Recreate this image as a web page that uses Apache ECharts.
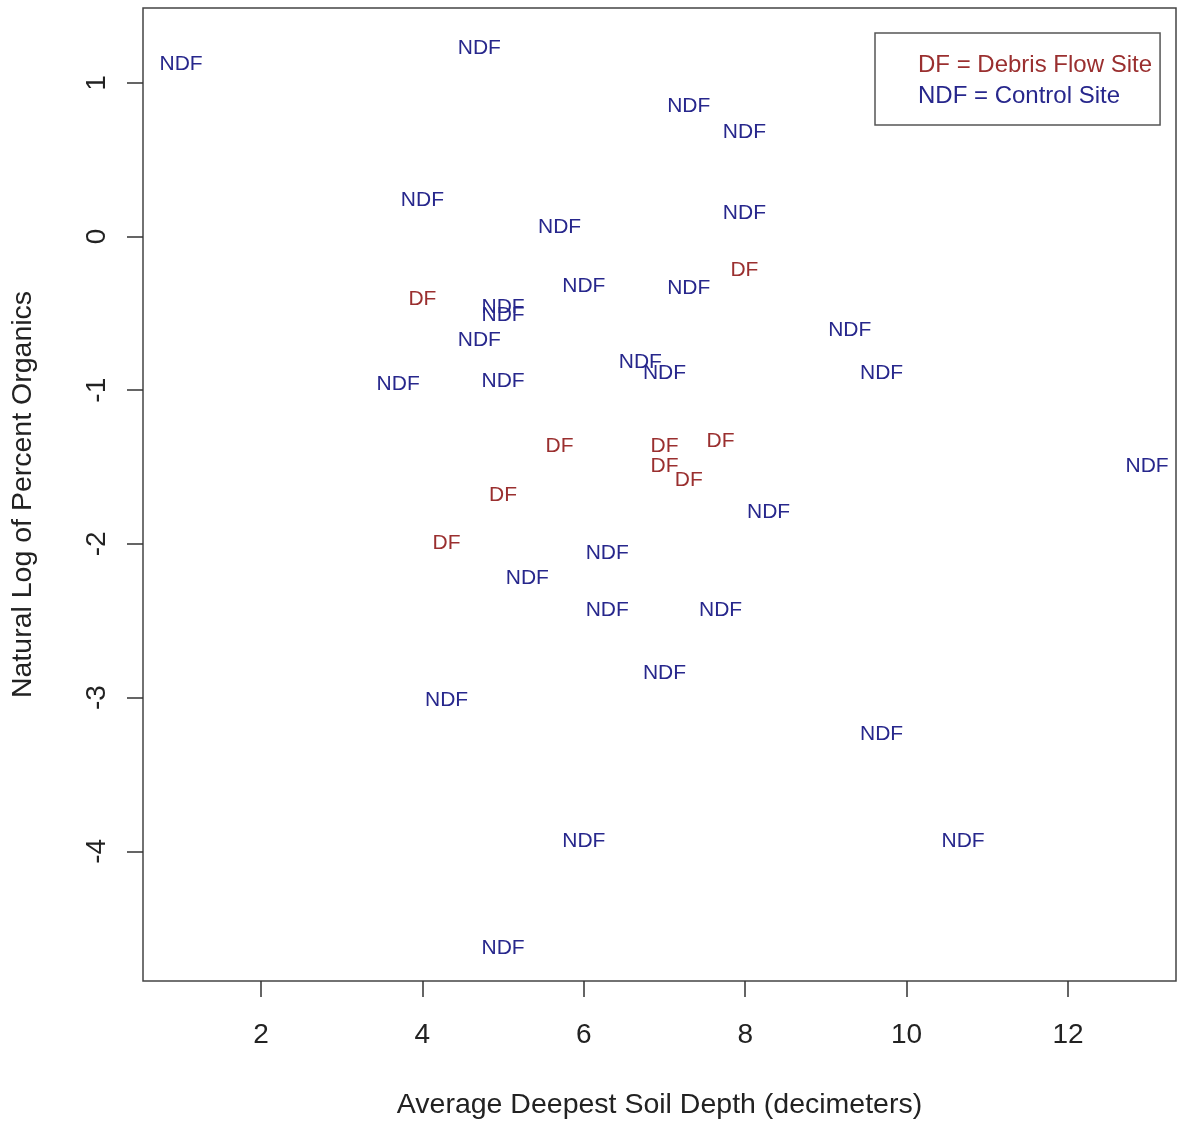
<!DOCTYPE html>
<html>
<head>
<meta charset="utf-8">
<script src="https://cdn.jsdelivr.net/npm/echarts@6/dist/echarts.min.js"></script>
<style>html,body{margin:0;padding:0;background:#fff;}#c{width:1178px;height:1125px;}</style>
</head>
<body>
<div id="c"></div>
<script>
// Debris flow sites (DF)
var dfX = [7.99, 4.0, 5.70, 7.0, 7.695, 7.0, 7.30, 5.0, 4.30];
var dfY = [-0.208, -0.396, -1.351, -1.351, -1.318, -1.48, -1.571, -1.669, -1.981];
// Control sites (NDF)
var ndfX = [1.01, 4.705, 7.30, 7.99, 4.0, 5.70, 7.99, 6.0, 7.30, 5.0, 5.0, 4.705, 9.295, 6.70, 7.0, 9.69, 3.70, 5.0, 12.98, 8.29, 6.29, 5.30, 6.29, 7.695, 7.0, 4.30, 9.69, 6.0, 10.70, 5.0];
var ndfY = [1.136, 1.24, 0.864, 0.695, 0.247, 0.071, 0.162, -0.312, -0.325, -0.448, -0.5, -0.662, -0.597, -0.805, -0.877, -0.877, -0.948, -0.929, -1.48, -1.779, -2.045, -2.208, -2.416, -2.416, -2.825, -3.006, -3.227, -3.922, -3.922, -4.617];
var xTicks = [2, 4, 6, 8, 10, 12];
var yTicks = [1, 0, -1, -2, -3, -4];
var dfName = 'DF = Debris Flow Site';
var ndfName = 'NDF = Control Site';
var dfColor = '#9a2f2f';
var ndfColor = '#27278c';

var font = "'Liberation Sans', Arial, Helvetica, sans-serif";
function pairs(xs, ys) { return xs.map(function (x, i) { return [x, ys[i]]; }); }
function textSeries(name, xs, ys, txt, color) {
  return {
    name: name, type: 'scatter', symbol: 'circle', symbolSize: 0,
    itemStyle: { color: color },
    label: {
      show: true, position: 'inside', formatter: txt, color: color, offset: [0, 2],
      fontSize: 21, fontFamily: font, textBorderWidth: 0, textBorderColor: 'transparent',
      opacity: 1, textShadowBlur: 0
    },
    emphasis: { disabled: true },
    data: pairs(xs, ys), silent: true, z: 3
  };
}
var chart = echarts.init(document.getElementById('c'), null, { renderer: 'canvas' });
chart.setOption({
  animation: false,
  backgroundColor: '#fff',
  grid: { left: 143, right: 2, top: 8, bottom: 142, show: true, borderColor: '#444', borderWidth: 1.5, backgroundColor: 'transparent' },
  xAxis: {
    type: 'value', min: 0.538, max: 13.338,
    name: 'Average Deepest Soil Depth (decimeters)', nameLocation: 'middle', nameGap: 110,
    nameTextStyle: { fontSize: 28.5, color: '#222', fontFamily: font },
    axisLine: { show: false, onZero: false },
    axisTick: { show: true, customValues: xTicks, length: 16, lineStyle: { color: '#333', width: 1.5 } },
    axisLabel: { customValues: xTicks, fontSize: 28, color: '#222', fontFamily: font, margin: 40 },
    splitLine: { show: false }
  },
  yAxis: {
    type: 'value', min: -4.844, max: 1.487,
    name: 'Natural Log of Percent Organics', nameLocation: 'middle', nameGap: 105, nameRotate: 90,
    nameTextStyle: { fontSize: 28.5, color: '#222', fontFamily: font },
    axisLine: { show: false, onZero: false },
    axisTick: { show: true, customValues: yTicks, length: 16, lineStyle: { color: '#333', width: 1.5 } },
    axisLabel: { customValues: yTicks, fontSize: 28, color: '#222', fontFamily: font, rotate: 90, margin: 32 },
    splitLine: { show: false }
  },
  legend: {
    orient: 'vertical', left: 875, top: 33,
    padding: [20, 8, 17, 10], itemGap: 7, itemWidth: 28, itemHeight: 14,
    icon: 'none', borderColor: '#555', borderWidth: 1.5, backgroundColor: '#fff',
    selectedMode: false,
    textStyle: { fontSize: 24, fontFamily: font },
    data: [
      { name: dfName, icon: 'none', textStyle: { color: dfColor } },
      { name: ndfName, icon: 'none', textStyle: { color: ndfColor } }
    ]
  },
  series: [
    textSeries(dfName, dfX, dfY, 'DF', dfColor),
    textSeries(ndfName, ndfX, ndfY, 'NDF', ndfColor)
  ]
});
</script>
</body>
</html>
